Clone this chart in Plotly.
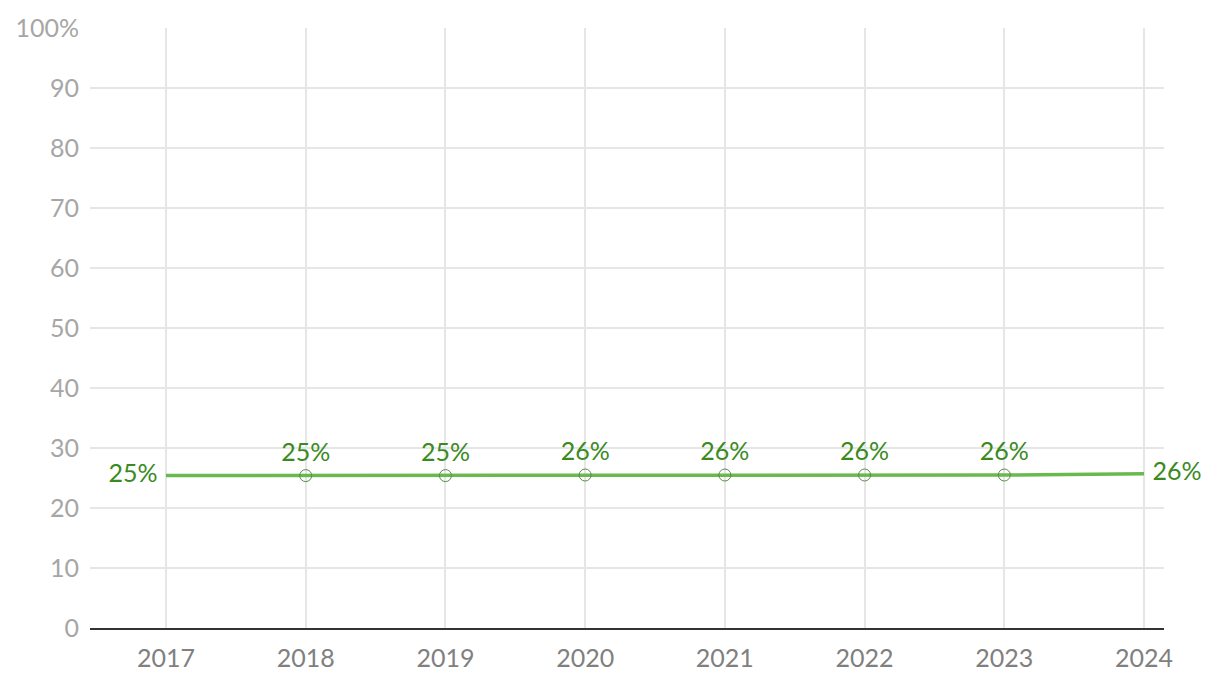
import plotly.graph_objects as go

years = [2017, 2018, 2019, 2020, 2021, 2022, 2023, 2024]
values = [25.4, 25.4, 25.4, 25.5, 25.5, 25.5, 25.5, 25.7]
labels = ["25%", "25%", "25%", "26%", "26%", "26%", "26%", "26%"]
y_ticks = [0, 10, 20, 30, 40, 50, 60, 70, 80, 90, 100]
y_tick_text = ["0", "10", "20", "30", "40", "50", "60", "70", "80", "90", "100%"]

FONT = "Lato"
n = len(years)
positions = ["middle left"] + ["top center"] * (n - 2) + ["middle right"]
line_colors = ["rgba(0,0,0,0)"] + ["#5a8a4a"] * (n - 2) + ["rgba(0,0,0,0)"]

fig = go.Figure()
fig.add_trace(go.Scatter(
    x=years, y=values, mode="lines+markers+text",
    line=dict(color="#6ab94e", width=3.5),
    marker=dict(symbol="circle-open", size=12, color=line_colors,
                line=dict(width=1, color=line_colors)),
    text=labels, textposition=positions,
    textfont=dict(family=FONT, size=25, color="#3a8a1e"),
    cliponaxis=False, hoverinfo="skip",
))

fig.update_layout(
    width=1220, height=692,
    margin=dict(l=82, r=64, t=20, b=72, autoexpand=False),
    paper_bgcolor="white", plot_bgcolor="white",
    showlegend=False,
    font=dict(family=FONT),
    xaxis=dict(
        range=[2016.456, 2024.143], tickmode="array", tickvals=years,
        ticktext=[str(y) for y in years],
        showgrid=True, gridcolor="#e6e6e6", gridwidth=2,
        showline=True, linecolor="#333333", linewidth=2,
        tickfont=dict(family=FONT, size=25, color="#808080"),
        ticks="outside", ticklen=7, tickcolor="rgba(0,0,0,0)",
        zeroline=False, automargin=False,
    ),
    yaxis=dict(
        range=[0, 100], tickmode="array", tickvals=y_ticks, ticktext=y_tick_text,
        showgrid=True, gridcolor="#e6e6e6", gridwidth=2,
        tickfont=dict(family=FONT, size=25, color="#a6a6a6"),
        ticks="outside", ticklen=5, tickcolor="rgba(0,0,0,0)",
        zeroline=False, showline=False, automargin=False,
    ),
)
fig.write_html("out.html")
